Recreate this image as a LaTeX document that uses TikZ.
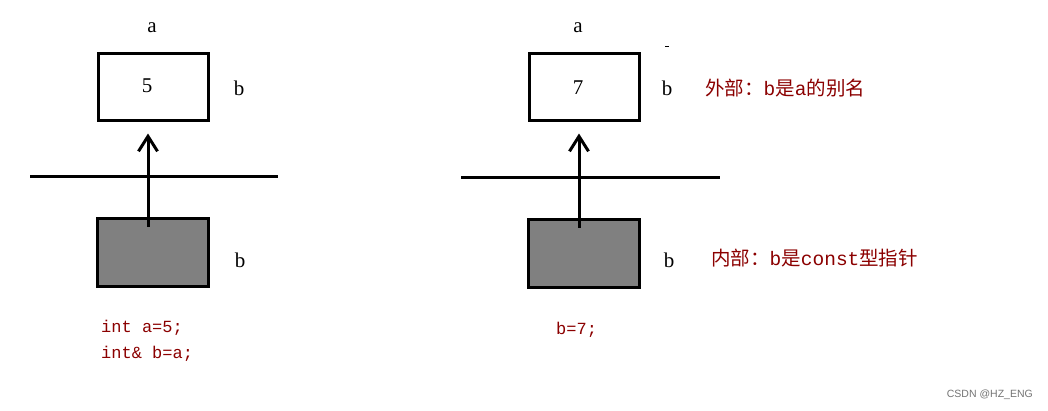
\documentclass[tikz,border=0pt]{standalone}
\usepackage{fontspec}
\usetikzlibrary{arrows.meta}
\newfontfamily\cjk{Noto Sans CJK SC}
\newfontfamily\monof{Liberation Mono}
\newfontfamily\wmfont{Liberation Sans}
\newfontfamily\lblfont{Liberation Serif}
\definecolor{codered}{HTML}{8B0000}
\definecolor{boxgray}{HTML}{808080}
\begin{document}
\begin{tikzpicture}[x=1pt,y=-1pt,
  valbox/.style={draw=black,line width=3pt,minimum width=110pt,minimum height=67pt,inner sep=0pt,fill=white},
  ptrbox/.style={draw=black,line width=3pt,minimum width=111pt,minimum height=68pt,inner sep=0pt,fill=boxgray},
  lbl/.style={font=\lblfont\fontsize{21}{24}\selectfont,inner sep=0pt},
  note/.style={font=\fontsize{19.5}{22}\selectfont,text=codered,inner sep=0pt,anchor=west},
  code/.style={font=\monof\fontsize{17}{26}\selectfont,text=codered,inner sep=0pt,anchor=west,align=left},
  sep/.style={line width=3pt},
  up/.style={line width=3pt,-{Straight Barb[length=15pt,width=19pt,line width=3pt]}}]
\useasboundingbox (0,0) rectangle (1048,410);
% left
\node[lbl] (la) at (152,28) {a};
\node[valbox] (t1) at (153,86.5) {};
\node[lbl] at (147,86) (v1) {5};
\node[lbl] (lb1) at (239,88) {b};
\coordinate (s1a) at (30,176);
\coordinate (s1b) at (278,176);
\draw[sep] (s1a) -- (s1b);
\node[ptrbox] (g1) at (152.5,252) {};
\node[lbl] (lb2) at (240,260) {b};
\draw[up] ([xshift=-4.5pt,yshift=-10pt]g1.north) -- ([xshift=-5pt,yshift=-12pt]t1.south);
\node[code] (c1) at (101,341) {int a=5;\\int\& b=a;};
% right
\node[lbl] (ra) at (578,28) {a};
\node[valbox] (t2) at (584,86.5) {};
\node[lbl] at (578,88) (v2) {7};
\coordinate (d1) at (665,46);
\coordinate (d2) at (669,46);
\draw[line width=1pt] (d1) -- (d2);
\node[lbl] (rb1) at (667,88) {b};
\node[note] (n1) at (705,88) {\cjk 外部：{\monof b}是{\monof a}的别名};
\coordinate (s2a) at (461,177);
\coordinate (s2b) at (720,177);
\draw[sep] (s2a) -- (s2b);
\node[ptrbox] (g2) at (583.5,253) {};
\node[lbl] (rb2) at (669,260) {b};
\node[note] (n2) at (711,258) {\cjk 内部：{\monof b}是{\monof const}型指针};
\draw[up] ([xshift=-4.5pt,yshift=-10pt]g2.north) -- ([xshift=-5pt,yshift=-12pt]t2.south);
\node[code] (c2) at (556,330) {b=7;};
% watermark
\node[font=\wmfont\fontsize{10.5}{12}\selectfont,text=black!55,anchor=east,inner sep=0pt] (wm) at (1033,395) {CSDN @HZ\_ENG};
\end{tikzpicture}
\end{document}
